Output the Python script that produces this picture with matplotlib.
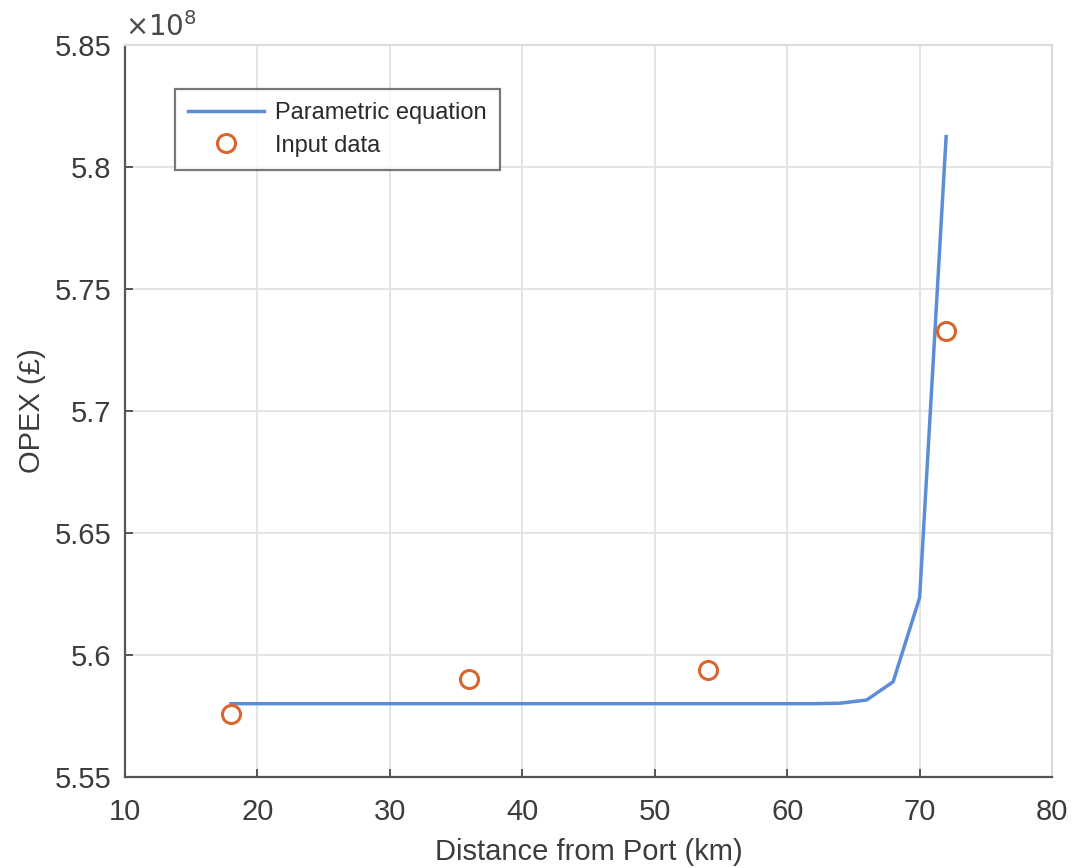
import numpy as np
import matplotlib.pyplot as plt

plt.rcParams['font.family'] = ['Liberation Sans', 'DejaVu Sans']

# parametric equation curve (km, OPEX in 1e8 GBP)
dist_curve = [18, 20, 22, 24, 26, 28, 30, 32, 34, 36, 38, 40, 42, 44, 46,
              48, 50, 52, 54, 56, 58, 60, 62, 64, 66, 68, 70, 72]
opex_curve = [5.5800, 5.5800, 5.5800, 5.5800, 5.5800, 5.5800, 5.5800,
              5.5800, 5.5800, 5.5800, 5.5800, 5.5800, 5.5800, 5.5800,
              5.5800, 5.5800, 5.5800, 5.5800, 5.5800, 5.5800, 5.5800,
              5.5800, 5.5800, 5.5802, 5.5815, 5.5890, 5.6235, 5.8125]

# input data points
dist_input = [18, 36, 54, 72]
opex_input = [5.5757, 5.5903, 5.5939, 5.7328]

xticks = [10, 20, 30, 40, 50, 60, 70, 80]
yticks = [5.55, 5.6, 5.65, 5.7, 5.75, 5.8, 5.85]
ytick_labels = ['5.55', '5.6', '5.65', '5.7', '5.75', '5.8', '5.85']

fig = plt.figure(figsize=(10.73, 8.68), dpi=100)
ax = fig.add_axes([0.1165, 0.105, 0.864, 0.843])

ax.plot(dist_curve, opex_curve, color='#5b8ed6', lw=2.5, label='Parametric equation')
ax.plot(dist_input, opex_input, 'o', ms=13, mfc='none', mec='#d9662e', mew=2.2,
        label='Input data')

ax.set_xlim(10, 80)
ax.set_ylim(5.55, 5.85)
ax.set_xticks(xticks)
ax.set_yticks(yticks)
ax.set_yticklabels(ytick_labels)
ax.grid(True, color='#e2e2e2', lw=1.3)
ax.set_axisbelow(True)

ax.tick_params(direction='in', length=6, width=1.3, colors='#4a4a4a',
               labelsize=21, labelcolor='#3c3c3c')
ax.tick_params(axis='x', pad=15)
ax.tick_params(axis='y', pad=10)
for s in ['left', 'bottom']:
    ax.spines[s].set_color('#555555')
    ax.spines[s].set_linewidth(1.6)
for s in ['top', 'right']:
    ax.spines[s].set_color('#dcdcdc')
    ax.spines[s].set_linewidth(1.6)

ax.set_xlabel('Distance from Port (km)', fontsize=21, color='#3c3c3c', labelpad=9)
ax.set_ylabel('OPEX (\u00a3)', fontsize=21, color='#3c3c3c', labelpad=6)

ax.text(0.0, 1.004, r'$\times10^{8}$', transform=ax.transAxes, fontsize=20,
        color='#4a4a4a', ha='left', va='bottom')

leg = ax.legend(loc='upper left', bbox_to_anchor=(0.054, 0.94), fontsize=17,
                frameon=True, fancybox=False, borderpad=0.55, handlelength=3.2,
                handletextpad=0.5, labelspacing=0.45, borderaxespad=0)
leg.get_frame().set_edgecolor('#555555')
leg.get_frame().set_linewidth(1.6)
for t in leg.get_texts():
    t.set_color('#2a2a2a')

fig.savefig('out.png', dpi=100, facecolor='white')
